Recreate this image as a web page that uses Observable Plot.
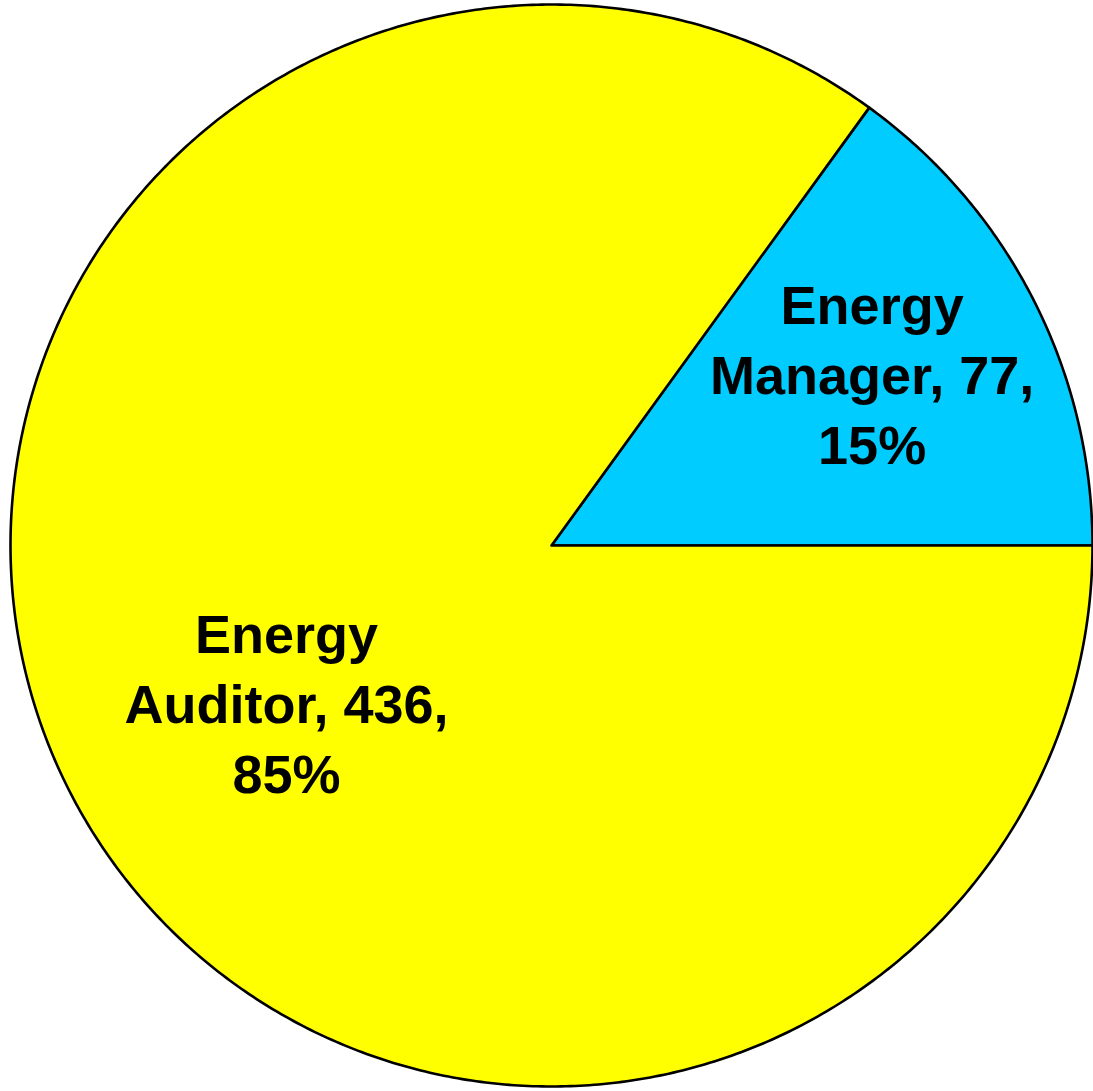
<!DOCTYPE html>
<html>
<head>
<meta charset="utf-8">
<script src="https://cdn.jsdelivr.net/npm/d3@7"></script>
<script src="https://cdn.jsdelivr.net/npm/@observablehq/plot@0.6"></script>
<style>
  html, body { margin: 0; padding: 0; background: #fff; }
  #chart svg { display: block; }
</style>
</head>
<body>
<div id="chart"></div>
<script>
// Data
const categories = ["Energy Manager", "Energy Auditor"];
const values = [77, 436];
const percents = [15, 85];
const colors = ["#00CCFF", "#FFFF00"];

const W = 1093, H = 1091;
const total = d3.sum(values);

// Slices start at 3 o'clock and go counter-clockwise (math angles)
let acc = 0;
const slices = categories.map((c, i) => {
  const a0 = acc / total * 2 * Math.PI;
  acc += values[i];
  const a1 = acc / total * 2 * Math.PI;
  return {category: c, value: values[i], pct: percents[i], a0, a1};
});

// polygon vertices for each slice (center -> arc -> center)
const verts = [];
for (const s of slices) {
  verts.push({category: s.category, x: 0, y: 0});
  const n = Math.max(2, Math.ceil((s.a1 - s.a0) / (Math.PI / 360)));
  for (let k = 0; k <= n; k++) {
    const a = s.a0 + (s.a1 - s.a0) * k / n;
    verts.push({category: s.category, x: Math.cos(a), y: Math.sin(a)});
  }
  verts.push({category: s.category, x: 0, y: 0});
}

// label placement (radius fraction and angle tweak, in radians)
const labelPlace = {"Energy Manager": {r: 0.668, da: 0.008}, "Energy Auditor": {r: 0.574, da: 0.077}};
const labels = slices.map(s => {
  const p = labelPlace[s.category];
  const a = (s.a0 + s.a1) / 2 + p.da;
  const w = s.category.split(" ");
  return {
    x: p.r * Math.cos(a), y: p.r * Math.sin(a),
    text: `${w[0]}\n${w.slice(1).join(" ")}, ${s.value},\n${s.pct}%`
  };
});

const chart = Plot.plot({
  width: W,
  height: H,
  marginLeft: 10,
  marginRight: 1,
  marginTop: 4,
  marginBottom: 5,
  x: {domain: [-1, 1], axis: null},
  y: {domain: [-1, 1], axis: null},
  color: {domain: categories, range: colors},
  style: {background: "white"},
  marks: [
    Plot.line(verts, {
      x: "x", y: "y", z: "category", fill: "category",
      stroke: "black", strokeWidth: 2.6, strokeLinejoin: "round"
    }),
    Plot.text(labels, {
      x: "x", y: "y", text: "text", dy: -7,
      fontSize: 54, fontWeight: "bold", fontFamily: "Liberation Sans, Arial, sans-serif",
      lineHeight: 1.3, fill: "black", textAnchor: "middle", lineAnchor: "middle"
    })
  ]
});
document.getElementById("chart").appendChild(chart);
</script>
</body>
</html>
